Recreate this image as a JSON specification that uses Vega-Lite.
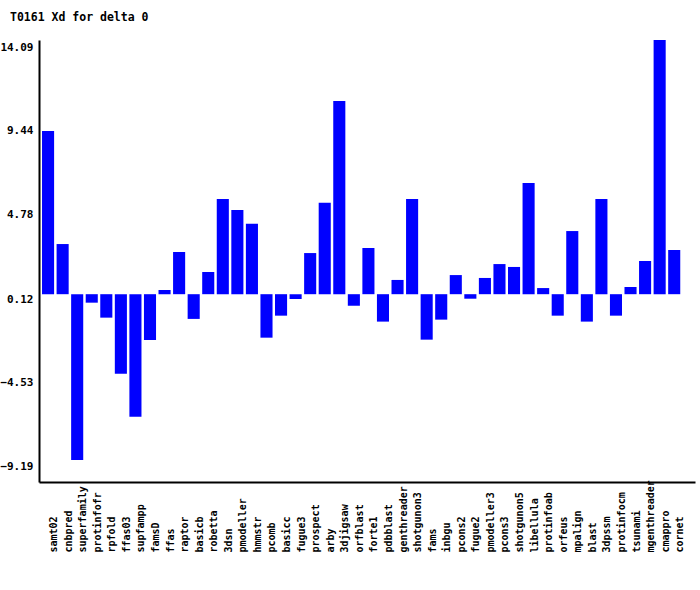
{
  "$schema": "https://vega.github.io/schema/vega-lite/v6.json",
  "autosize": "none",
  "width": 656,
  "height": 442,
  "padding": {"left": 39, "top": 40, "right": 5, "bottom": 108},
  "background": "white",
  "title": {
    "text": "T0161 Xd for delta 0",
    "anchor": "start",
    "frame": "group",
    "dx": -29,
    "offset": 8,
    "baseline": "alphabetic",
    "font": "DejaVu Sans Mono",
    "fontSize": 11.5,
    "fontWeight": "bold",
    "color": "black"
  },
  "data": {
    "values": [
      {"model": "samt02", "xd": 9.05},
      {"model": "cnbpred", "xd": 2.78},
      {"model": "superfamily", "xd": -9.19},
      {"model": "protinfofr", "xd": -0.47},
      {"model": "rpfold", "xd": -1.30},
      {"model": "ffas03", "xd": -4.41},
      {"model": "supfampp", "xd": -6.79},
      {"model": "famsD", "xd": -2.54},
      {"model": "ffas", "xd": 0.23},
      {"model": "raptor", "xd": 2.34},
      {"model": "basicb", "xd": -1.37},
      {"model": "robetta", "xd": 1.23},
      {"model": "3dsn", "xd": 5.28},
      {"model": "pmodeller", "xd": 4.67},
      {"model": "hmmstr", "xd": 3.90},
      {"model": "pcomb", "xd": -2.41},
      {"model": "basicc", "xd": -1.19},
      {"model": "fugue3", "xd": -0.27},
      {"model": "prospect", "xd": 2.28},
      {"model": "arby", "xd": 5.07},
      {"model": "3djigsaw", "xd": 10.71},
      {"model": "orfblast", "xd": -0.64},
      {"model": "forte1", "xd": 2.56},
      {"model": "pdbblast", "xd": -1.52},
      {"model": "genthreader", "xd": 0.79},
      {"model": "shotgunon3", "xd": 5.28},
      {"model": "fams", "xd": -2.52},
      {"model": "inbgu", "xd": -1.41},
      {"model": "pcons2", "xd": 1.06},
      {"model": "fugue2", "xd": -0.25},
      {"model": "pmodeller3", "xd": 0.90},
      {"model": "pcons3", "xd": 1.67},
      {"model": "shotgunon5", "xd": 1.51},
      {"model": "libellula", "xd": 6.16},
      {"model": "protinfoab", "xd": 0.34},
      {"model": "orfeus", "xd": -1.19},
      {"model": "mpalign", "xd": 3.50},
      {"model": "blast", "xd": -1.52},
      {"model": "3dpssm", "xd": 5.28},
      {"model": "protinfocm", "xd": -1.19},
      {"model": "tsunami", "xd": 0.40},
      {"model": "mgenthreader", "xd": 1.84},
      {"model": "cmappro", "xd": 14.09},
      {"model": "cornet", "xd": 2.45}
    ]
  },
  "mark": {"type": "bar", "color": "#0000ff"},
  "encoding": {
    "x": {
      "field": "model",
      "type": "nominal",
      "sort": null,
      "scale": {"paddingInner": 0.17, "paddingOuter": 0.61, "align": 0.17},
      "axis": {
        "title": null,
        "orient": "bottom",
        "domainColor": "black",
        "domainWidth": 2,
        "ticks": false,
        "tickSize": 0,
        "labelAngle": 270,
        "labelAlign": "left",
        "labelBaseline": "top",
        "labelOffset": 1,
        "labelPadding": 70,
        "labelFont": "DejaVu Sans Mono",
        "labelFontSize": 10,
        "labelFontWeight": "bold",
        "labelColor": "black",
        "labelOverlap": false,
        "grid": false
      }
    },
    "y": {
      "field": "xd",
      "type": "quantitative",
      "scale": {"domain": [-10.41, 14.09], "nice": false, "zero": false},
      "axis": {
        "title": null,
        "values": [14.09, 9.44, 4.78, 0.12, -4.53, -9.19],
        "format": ".2f",
        "domainColor": "black",
        "domainWidth": 2,
        "ticks": false,
        "tickSize": 0,
        "labelPadding": 6,
        "labelBaseline": "middle",
        "labelOffset": 7,
        "labelFont": "DejaVu Sans Mono",
        "labelFontSize": 11,
        "labelFontWeight": "bold",
        "labelColor": "black",
        "labelOverlap": false,
        "grid": false
      }
    }
  },
  "config": {"view": {"stroke": null}}
}
